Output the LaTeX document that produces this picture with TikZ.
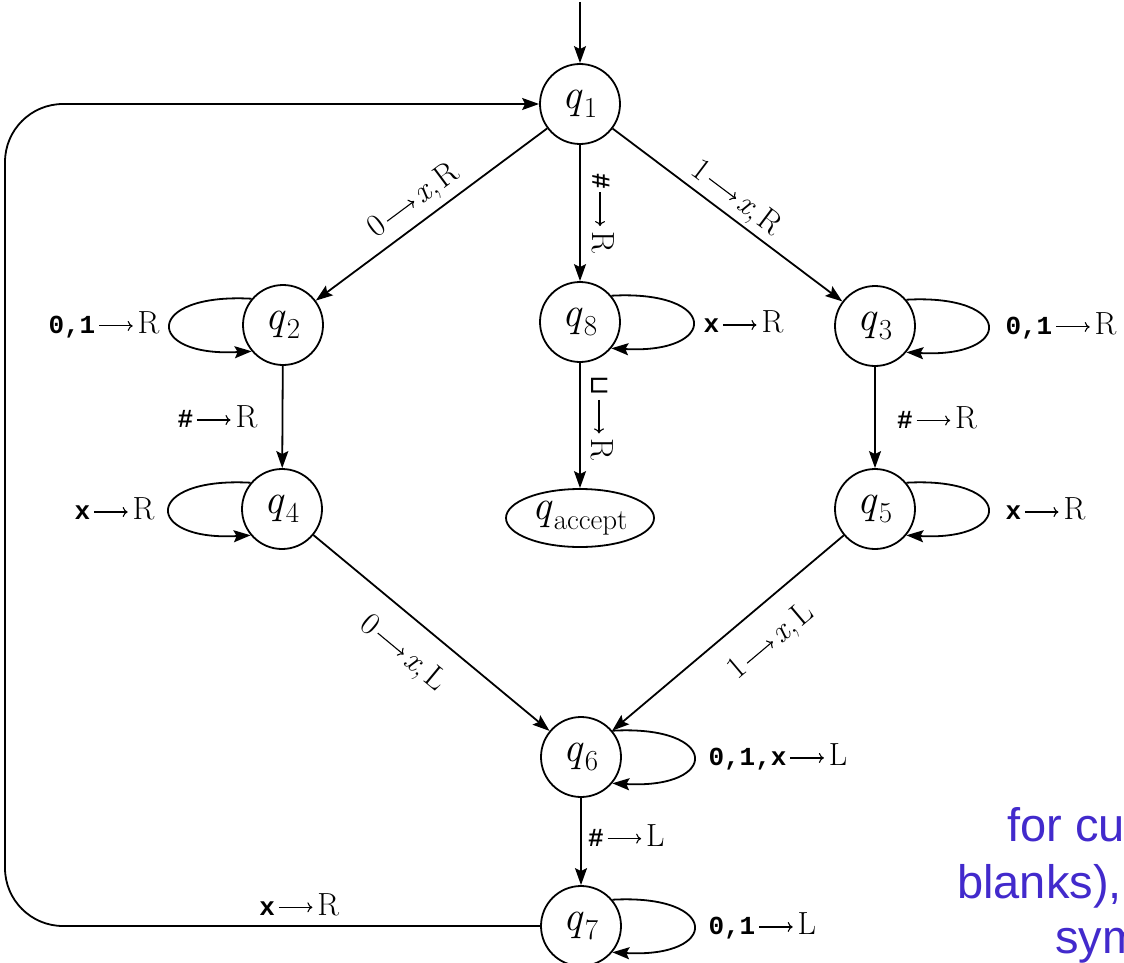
\documentclass[tikz,border=0pt]{standalone}
\usepackage{fontspec}
\setmainfont{Latin Modern Roman}
\setmonofont{Liberation Mono}
\newfontfamily\bluefont{Liberation Sans}
\newfontfamily\blankfont{DejaVu Sans}
\usetikzlibrary{arrows.meta,shapes.geometric}
\definecolor{slideblue}{RGB}{66,42,204}
\newcommand{\myarr}{\kern0.1em\tikz[baseline=-0.24em]\draw[line width=1.1pt,-{To[length=5pt,width=10pt]}] (0,0) -- (1.05em,0);\kern0.14em}
\newcommand{\tsym}[1]{{\ttfamily\bfseries\fontsize{26}{30}\selectfont #1}}
\newcommand{\qs}[1]{\textit{q}\kern0.02em\raisebox{-0.22em}{\fontsize{29}{32}\selectfont #1}}
\tikzset{
  state/.style={circle, draw, line width=1.8pt, minimum size=80pt, inner sep=0pt, font=\fontsize{42}{46}\selectfont},
  acceptstate/.style={ellipse, draw, line width=1.8pt, minimum width=148pt, minimum height=58pt, inner sep=0pt, font=\fontsize{42}{46}\selectfont},
  edge/.style={line width=1.8pt, -{Stealth[length=17pt,width=12pt,inset=3pt]}},
  lab/.style={font=\fontsize{32}{36}\selectfont, inner sep=0pt},
  slidetext/.style={font=\bluefont\fontsize{47}{54}\selectfont, text=slideblue, inner sep=0pt, anchor=base west}
}
\begin{document}
\begin{tikzpicture}[x=1pt,y=-1pt]
\useasboundingbox (0,0) rectangle (1124,963);
\clip (0,0) rectangle (1124,963);
% states
\node[state] (q1) at (580,104) {\qs{1}};
\node[state] (q8) at (580,322) {\qs{8}};
\node[state] (q2) at (283,325) {\qs{2}};
\node[state] (q3) at (875,326) {\qs{3}};
\node[state] (q4) at (282,509) {\qs{4}};
\node[state] (q5) at (875,509) {\qs{5}};
\node[acceptstate] (qa) at (580,518) {\qs{accept}};
\node[state] (q6) at (581,757) {\qs{6}};
\node[state] (q7) at (581,926) {\qs{7}};
\coordinate (start) at (580,2);
\coordinate (lb) at (5,926);
\coordinate (lt) at (5,104);
% straight transitions
\draw[edge] (start) -- (q1);
\draw[edge] (q1) -- node[lab, sloped, pos=.52, anchor=south, inner sep=7pt] {0\myarr\textit{x},\kern0.1em R} (q2);
\draw[edge] (q1) -- node[lab, sloped, pos=.49, anchor=south, inner sep=4pt] {1\myarr\textit{x},\kern0.1em R} (q3);
\draw[edge] (q1) -- node[lab, pos=.5, xshift=23pt, rotate=-90] {\tsym{\#}\myarr R} (q8);
\draw[edge] (q2) -- node[lab, pos=.5, anchor=east, xshift=-25pt] {\tsym{\#}\myarr R} (q4);
\draw[edge] (q3) -- node[lab, pos=.5, anchor=west, xshift=22pt] {\tsym{\#}\myarr R} (q5);
\draw[edge] (q8) -- node[lab, pos=.44, xshift=22pt, rotate=-90] {{\blankfont\fontsize{26}{30}\selectfont ⊔}\myarr R} (qa);
\draw[edge] (q4) -- node[lab, sloped, pos=.47, anchor=north, inner sep=20pt] {0\myarr\textit{x},\kern0.1em L} (q6);
\draw[edge] (q5) -- node[lab, sloped, pos=.41, anchor=north, inner sep=21pt] {1\myarr\textit{x},\kern0.1em L} (q6);
\draw[edge] (q6) -- node[lab, pos=.43, anchor=west, xshift=7pt] {\tsym{\#}\myarr L} (q7);
\draw[edge, rounded corners=58pt] (q7.west) -- node[lab, pos=.45, anchor=base, yshift=11pt] {\tsym{x}\myarr R} (lb) -- (lt) -- (q1.west);
% self loops
\draw[edge] (q2.140) .. controls +(-108,-6) and +(-108,6) .. node[lab, pos=.5, anchor=east, xshift=-11pt] {\tsym{0,1}\myarr R} (q2.220);
\draw[edge] (q4.140) .. controls +(-108,-6) and +(-108,6) .. node[lab, pos=.5, anchor=east, xshift=-15pt] {\tsym{x}\myarr R} (q4.220);
\draw[edge] (q8.40) .. controls +(108,-6) and +(108,6) .. node[lab, pos=.5, anchor=west, xshift=11pt] {\tsym{x}\myarr R} (q8.-40);
\draw[edge] (q3.40) .. controls +(108,-6) and +(108,6) .. node[lab, pos=.5, anchor=west, xshift=18pt] {\tsym{0,1}\myarr R} (q3.-40);
\draw[edge] (q5.40) .. controls +(108,-6) and +(108,6) .. node[lab, pos=.5, anchor=west, xshift=18pt] {\tsym{x}\myarr R} (q5.-40);
\draw[edge] (q6.40) .. controls +(108,-6) and +(108,6) .. node[lab, pos=.5, anchor=west, xshift=15pt] {\tsym{0,1,x}\myarr L} (q6.-40);
\draw[edge] (q7.40) .. controls +(108,-6) and +(108,6) .. node[lab, pos=.5, anchor=west, xshift=15pt] {\tsym{0,1}\myarr L} (q7.-40);
% cut-off slide text
\node[slidetext] (t1) at (1007,841) {for cu};
\node[slidetext] (t2) at (957,898) {blanks),};
\node[slidetext] (t3) at (1055,953) {sym};
\end{tikzpicture}
\end{document}
